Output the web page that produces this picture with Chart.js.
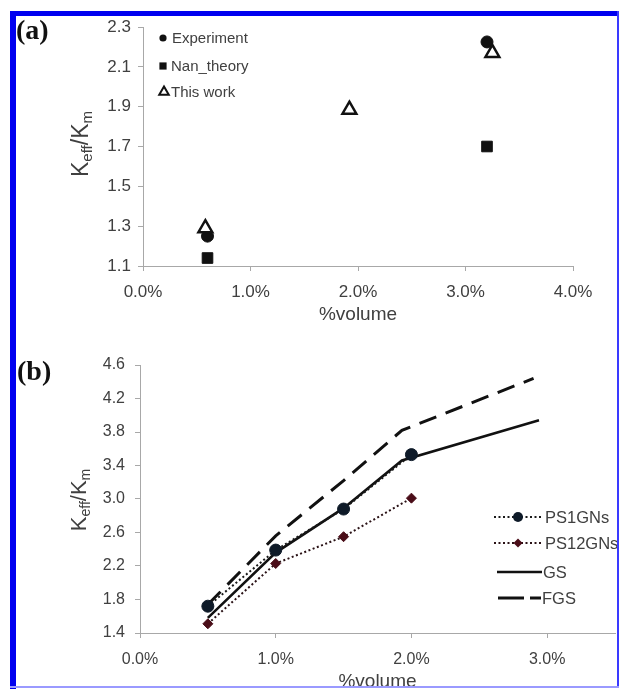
<!DOCTYPE html>
<html>
<head>
<meta charset="utf-8">
<script src="https://cdn.jsdelivr.net/npm/chart.js@4.4.0/dist/chart.umd.min.js"></script>
<style>
  html, body { margin: 0; padding: 0; background: #fff; }
  #page { position: relative; width: 622px; height: 689px; overflow: hidden; background: #fff; }
  canvas { position: absolute; left: 0; }
  .edge { position: absolute; }
</style>
</head>
<body>
<div id="page">
  <canvas id="chartA" width="622" height="330" style="top:0"></canvas>
  <canvas id="chartB" width="622" height="359" style="top:330px"></canvas>
  <div class="edge" style="left:619px;top:0;width:3px;height:689px;background:#fff"></div>
  <div class="edge" style="left:10px;top:11px;width:608px;height:5px;background:#0000f0"></div>
  <div class="edge" style="left:10px;top:11px;width:6px;height:678px;background:#0000f0"></div>
  <div class="edge" style="left:617px;top:11px;width:2px;height:677px;background:#3a3aff"></div>
  <div class="edge" style="left:10px;top:686px;width:609px;height:2px;background:#9a9aff"></div>
</div>
<script>
// ---- panel (a) data ----
const expX = [0.6, 3.2];
const expY = [1.25, 2.225];
const nanX = [0.6, 3.2];
const nanY = [1.14, 1.70];
const workX = [0.58, 1.92, 3.25];
const workY = [1.29, 1.885, 2.17];
const aXTicks = [0, 1, 2, 3, 4];
const aYTicks = [1.1, 1.3, 1.5, 1.7, 1.9, 2.1, 2.3];

// ---- panel (b) data ----
const psX = [0.5, 1.0, 1.5, 2.0];
const ps1Y = [1.72, 2.39, 2.88, 3.53];
const ps12Y = [1.51, 2.23, 2.55, 3.01];
const gsX = [0.5, 1.0, 1.5, 1.93, 2.94];
const gsY = [1.58, 2.36, 2.89, 3.46, 3.94];
const fgsX = [0.5, 1.0, 1.5, 1.93, 2.9];
const fgsY = [1.74, 2.56, 3.22, 3.82, 4.44];
const bXTicks = [0, 1, 2, 3];
const bYTicks = [1.4, 1.8, 2.2, 2.6, 3.0, 3.4, 3.8, 4.2, 4.6];

const FONT = '"Liberation Sans", Arial, sans-serif';
const TXT = '#404040';
const AXIS = '#a8a8a8';

const pts = (xs, ys) => xs.map((x, i) => ({ x: x, y: ys[i] }));

// small marker drawer for the hand-made legends
function marker(ctx, style, x, y, r, fill, stroke, lw) {
  ctx.save();
  ctx.beginPath();
  if (style === 'circle') ctx.arc(x, y, r, 0, Math.PI * 2);
  else if (style === 'rect') ctx.rect(x - r, y - r, 2 * r, 2 * r);
  else if (style === 'rectRot') { ctx.moveTo(x - r, y); ctx.lineTo(x, y - r); ctx.lineTo(x + r, y); ctx.lineTo(x, y + r); ctx.closePath(); }
  else if (style === 'triangle') { ctx.moveTo(x, y - r); ctx.lineTo(x + r * 0.866, y + r * 0.5); ctx.lineTo(x - r * 0.866, y + r * 0.5); ctx.closePath(); }
  ctx.fillStyle = fill; ctx.fill();
  if (lw) { ctx.lineWidth = lw; ctx.strokeStyle = stroke; ctx.stroke(); }
  ctx.restore();
}

function kTitle(ctx, cx, cy, big, small) {
  const parts = [['K', big, 0], ['eff', small, 4], ['/K', big, 0], ['m', small, 4]];
  ctx.save();
  ctx.translate(cx, cy);
  ctx.rotate(-Math.PI / 2);
  let total = 0;
  parts.forEach(p => { ctx.font = p[1] + 'px ' + FONT; total += ctx.measureText(p[0]).width; });
  let x = -total / 2;
  ctx.fillStyle = TXT;
  ctx.textBaseline = 'alphabetic';
  parts.forEach(p => {
    ctx.font = p[1] + 'px ' + FONT;
    ctx.fillText(p[0], x, p[2]);
    x += ctx.measureText(p[0]).width;
  });
  ctx.restore();
}

const decor = {
  id: 'decor',
  afterDraw(chart, args, o) {
    const ctx = chart.ctx;
    ctx.save();
    ctx.font = 'bold 28px "Liberation Serif", "Times New Roman", serif';
    ctx.fillStyle = '#111';
    ctx.textBaseline = 'middle';
    ctx.fillText(o.tag, o.tagX, o.tagY);
    ctx.restore();
    kTitle(ctx, o.titleX, o.titleY, o.big, o.small);
    o.legend.forEach(it => {
      ctx.save();
      if (it.line) {
        ctx.beginPath();
        ctx.setLineDash(it.dash || []);
        ctx.lineWidth = it.lw;
        ctx.strokeStyle = it.color;
        ctx.moveTo(it.x0, it.y); ctx.lineTo(it.x1, it.y);
        ctx.stroke();
        ctx.setLineDash([]);
      }
      if (it.style) marker(ctx, it.style, it.mx, it.y, it.r, it.fill, it.stroke, it.mlw);
      ctx.font = o.legendFont + 'px ' + FONT;
      ctx.fillStyle = TXT;
      ctx.textBaseline = 'middle';
      ctx.fillText(it.text, it.tx, it.y + 1);
      ctx.restore();
    });
  }
};

function axis(ticks, fmt, size, pad, fit) {
  return {
    type: 'linear',
    min: ticks[0],
    afterBuildTicks: s => { s.ticks = ticks.map(v => ({ value: v })); },
    ticks: { callback: fmt, color: TXT, font: { family: FONT, size: size }, padding: pad, maxRotation: 0, autoSkip: false },
    grid: { drawOnChartArea: false, drawTicks: true, tickLength: 5, color: AXIS },
    border: { color: AXIS, width: 1 },
    afterFit: fit
  };
}

const base = {
  responsive: false,
  devicePixelRatio: 1,
  animation: false,
  events: [],
  plugins: { legend: { display: false }, tooltip: { enabled: false } }
};

// ---- chart (a) ----
const ax = axis(aXTicks, v => v.toFixed(1) + '%', 17, 11, s => { s.height = 64; });
ax.max = 4;
ax.title = { display: true, text: '%volume', color: TXT, font: { family: FONT, size: 19 }, padding: { top: 0, bottom: 4 } };
const ay = axis(aYTicks, v => v.toFixed(1), 17, 7, s => { s.width = 143; });
ay.max = 2.3;

new Chart(document.getElementById('chartA'), {
  type: 'scatter',
  data: {
    datasets: [
      { label: 'Experiment', data: pts(expX, expY), pointStyle: 'circle', pointRadius: 6, backgroundColor: '#111', borderColor: '#111', borderWidth: 1 },
      { label: 'Nan_theory', data: pts(nanX, nanY), pointStyle: 'rect', pointRadius: 7.5, backgroundColor: '#111', borderColor: '#111', borderWidth: 1 },
      { label: 'This work', data: pts(workX, workY), pointStyle: 'triangle', pointRadius: 8, backgroundColor: '#fff', borderColor: '#111', borderWidth: 2.5, order: -1 }
    ]
  },
  options: {
    ...base,
    layout: { padding: { left: 0, right: 49, top: 27, bottom: 0 } },
    scales: { x: ax, y: ay },
    plugins: {
      ...base.plugins,
      decor: {
        tag: '(a)', tagX: 16, tagY: 32, titleX: 88, titleY: 144, big: 23, small: 15, legendFont: 15,
        legend: [
          { text: 'Experiment', style: 'circle', mx: 163, r: 3.6, fill: '#111', tx: 172, y: 38 },
          { text: 'Nan_theory', style: 'rect', mx: 163, r: 3.6, fill: '#111', tx: 171, y: 66 },
          { text: 'This work', style: 'triangle', mx: 164, r: 5.5, fill: '#fff', stroke: '#111', mlw: 2, tx: 171, y: 92 }
        ]
      }
    }
  },
  plugins: [decor]
});

// ---- chart (b) ----
const bx = axis(bXTicks, v => v.toFixed(1) + '%', 16, 12, s => { s.height = 56; });
bx.max = 3.5;
bx.title = { display: true, text: '%volume', color: TXT, font: { family: FONT, size: 19, lineHeight: 0.8 }, padding: { top: 0, bottom: 0 } };
const by = axis(bYTicks, v => v.toFixed(1), 16, 10, s => { s.width = 140; });
by.max = 4.6;

const PS1C = '#0e1a28';
const PS12C = '#4a0d18';

new Chart(document.getElementById('chartB'), {
  type: 'scatter',
  data: {
    datasets: [
      { label: 'PS1GNs', data: pts(psX, ps1Y), showLine: true, borderDash: [2, 2.5], borderWidth: 2, borderColor: '#1a1a1a', pointStyle: 'circle', pointRadius: 6, pointBackgroundColor: PS1C, pointBorderColor: PS1C, pointBorderWidth: 1 },
      { label: 'PS12GNs', data: pts(psX, ps12Y), showLine: true, borderDash: [2, 2.5], borderWidth: 2, borderColor: '#2a1216', pointStyle: 'rectRot', pointRadius: 5, pointBackgroundColor: PS12C, pointBorderColor: PS12C, pointBorderWidth: 1 },
      { label: 'GS', data: pts(gsX, gsY), showLine: true, borderWidth: 2.6, borderColor: '#111', pointRadius: 0 },
      { label: 'FGS', data: pts(fgsX, fgsY), showLine: true, borderWidth: 3, borderColor: '#111', borderDash: [18, 10], pointRadius: 0 }
    ]
  },
  options: {
    ...base,
    layout: { padding: { left: 0, right: 3, top: 35, bottom: 0 } },
    scales: { x: bx, y: by },
    plugins: {
      ...base.plugins,
      decor: {
        tag: '(b)', tagX: 17, tagY: 43, titleX: 86, titleY: 170, big: 22, small: 14, legendFont: 16.5,
        legend: [
          { text: 'PS1GNs', line: true, x0: 494, x1: 541, lw: 2, dash: [2, 2.5], color: '#1a1a1a', style: 'circle', mx: 518, r: 5, fill: PS1C, tx: 545, y: 187 },
          { text: 'PS12GNs', line: true, x0: 494, x1: 541, lw: 2, dash: [2, 2.5], color: '#2a1216', style: 'rectRot', mx: 518, r: 4.5, fill: PS12C, tx: 545, y: 213 },
          { text: 'GS', line: true, x0: 497, x1: 542, lw: 2.6, color: '#111', tx: 543, y: 242 },
          { text: 'FGS', line: true, x0: 498, x1: 541, lw: 3, dash: [26, 6], color: '#111', tx: 542, y: 268 }
        ]
      }
    }
  },
  plugins: [decor]
});
</script>
</body>
</html>
